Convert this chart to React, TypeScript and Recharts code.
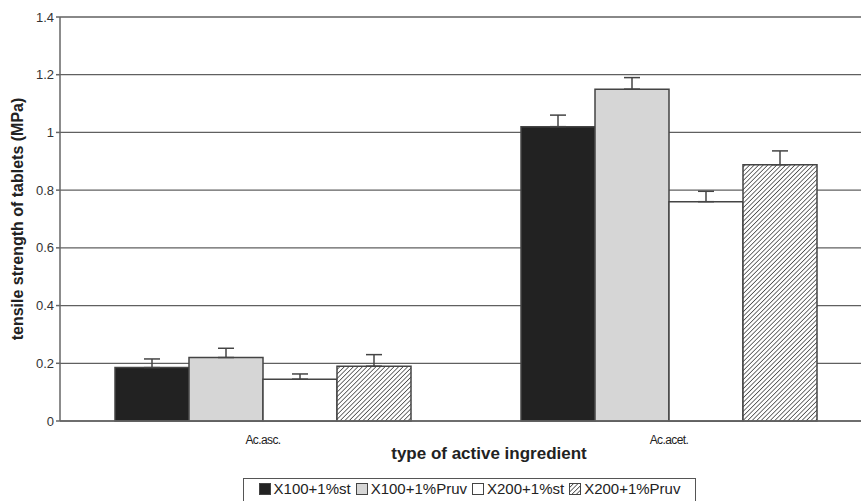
import {
  BarChart,
  Bar,
  XAxis,
  YAxis,
  CartesianGrid,
  ErrorBar,
  Label,
} from "recharts";

const categories = ["Ac.asc.", "Ac.acet."];
const seriesNames = ["X100+1%st", "X100+1%Pruv", "X200+1%st", "X200+1%Pruv"];
const x100st = [0.185, 1.02];
const x100pruv = [0.22, 1.15];
const x200st = [0.145, 0.76];
const x200pruv = [0.19, 0.888];
const x100stErr = [0.03, 0.04];
const x100pruvErr = [0.032, 0.04];
const x200stErr = [0.018, 0.036];
const x200pruvErr = [0.04, 0.048];
const yTicks = [0, 0.2, 0.4, 0.6, 0.8, 1, 1.2, 1.4];

const data = categories.map((name, i) => ({
  name,
  s1: x100st[i],
  s2: x100pruv[i],
  s3: x200st[i],
  s4: x200pruv[i],
  e1: [0, x100stErr[i]],
  e2: [0, x100pruvErr[i]],
  e3: [0, x200stErr[i]],
  e4: [0, x200pruvErr[i]],
}));

const FONT = "'Liberation Sans', Arial, sans-serif";
const EDGE = "#444";

const fills = ["#222222", "#d6d6d6", "#ffffff", "url(#hatch)"];

const HatchDefs = ({ id }: { id: string }) => (
  <defs>
    <pattern
      id={id}
      patternUnits="userSpaceOnUse"
      width={3.2}
      height={3.2}
      patternTransform="rotate(45)"
    >
      <rect width={3.2} height={3.2} fill="#fff" />
      <line x1={0} y1={0} x2={0} y2={3.2} stroke="#333" strokeWidth={1.4} />
    </pattern>
  </defs>
);

const LegendBox = () => (
  <div
    style={{
      position: "absolute",
      left: 243,
      top: 478,
      width: 453,
      height: 30,
      border: "1px solid #555",
      background: "#fff",
      display: "flex",
      alignItems: "flex-start",
      justifyContent: "center",
      paddingTop: 1,
      boxSizing: "border-box",
      fontFamily: FONT,
      fontSize: 15,
      color: "#222",
      gap: 5,
    }}
  >
    {seriesNames.map((n, i) => (
      <div key={n} style={{ display: "flex", alignItems: "center", gap: 3 }}>
        <svg width={12} height={12}>
          <HatchDefs id={`lhatch${i}`} />
          <rect
            x={0.5}
            y={0.5}
            width={11}
            height={11}
            fill={i === 3 ? `url(#lhatch${i})` : fills[i]}
            stroke={EDGE}
          />
        </svg>
        <span>{n}</span>
      </div>
    ))}
  </div>
);

export default function App() {
  return (
    <div
      style={{
        position: "absolute",
        left: 0,
        top: 0,
        width: 861,
        height: 501,
        overflow: "hidden",
        background: "#fff",
      }}
    >
      <BarChart
        width={872}
        height={501}
        data={data}
        margin={{ top: 17, right: 0, left: 0, bottom: 40 }}
        barSize={74}
        barGap={0}
      >
        <HatchDefs id="hatch" />
        <CartesianGrid
          vertical={false}
          stroke="#606060"
          strokeWidth={1.3}
        />
        <XAxis
          dataKey="name"
          height={40}
          stroke="#666"
          strokeWidth={1.5}
          tickLine={false}
          tick={{ fill: "#222", fontSize: 12, fontFamily: FONT, letterSpacing: -0.6 }}
          tickMargin={8}
        >
          <Label
            content={({ viewBox }: any) => (
              <text
                x={viewBox.x + viewBox.width / 2 + 23}
                y={viewBox.y + 38}
                textAnchor="middle"
                fontFamily={FONT}
                fontWeight="bold"
                fontSize={17}
                fill="#222"
              >
                type of active ingredient
              </text>
            )}
          />
        </XAxis>
        <YAxis
          width={60}
          domain={[0, 1.4]}
          ticks={yTicks}
          interval={0}
          stroke="#666"
          strokeWidth={1.5}
          tickSize={4}
          tick={{ fill: "#333", fontSize: 13, fontFamily: FONT }}
        >
          <Label
            content={({ viewBox }: any) => {
              const cy = viewBox.y + viewBox.height / 2;
              return (
                <text
                  x={17}
                  y={cy}
                  transform={`rotate(-90, 17, ${cy})`}
                  textAnchor="middle"
                  dominantBaseline="central"
                  fontFamily={FONT}
                  fontWeight="bold"
                  fontSize={16}
                  fill="#222"
                >
                  tensile strength of tablets (MPa)
                </text>
              );
            }}
          />
        </YAxis>
        {["s1", "s2", "s3", "s4"].map((k, i) => (
          <Bar
            key={k}
            dataKey={k}
            fill={fills[i]}
            stroke={EDGE}
            strokeWidth={1.5}
            isAnimationActive={false}
          >
            <ErrorBar
              dataKey={`e${i + 1}`}
              width={8}
              stroke="#444"
              strokeWidth={1.5}
              direction="y"
            />
          </Bar>
        ))}
      </BarChart>
      <LegendBox />
    </div>
  );
}
